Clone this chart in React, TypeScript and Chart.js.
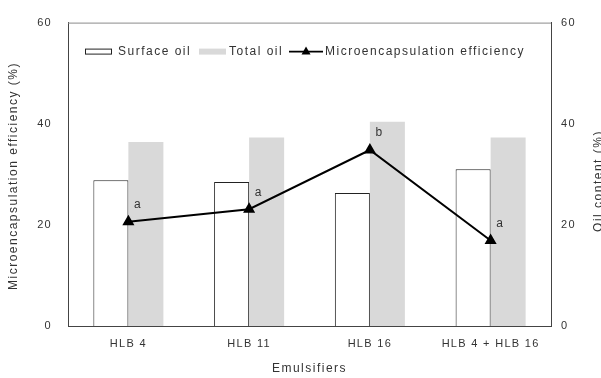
import React, { useEffect, useRef } from 'react';
import { Chart, registerables } from 'chart.js';

Chart.register(...registerables);

const categories = ['HLB 4', 'HLB 11', 'HLB 16', 'HLB 4 + HLB 16'];
const surfaceOil = [28.8, 28.5, 26.3, 31.0];
const totalOil = [36.4, 37.3, 40.4, 37.3];
const efficiency = [20.6, 23.1, 34.8, 16.9];
const significance = ['a', 'a', 'b', 'a'];
const seriesLabels = ['Surface oil', 'Total oil', 'Microencapsulation efficiency'];
const axisTitles = { left: 'Microencapsulation efficiency (%)', right: 'Oil content (%)', bottom: 'Emulsifiers' };
const axisMin = 0;
const axisMax = 60;
const axisStep = 20;

const FONT = '"Liberation Sans", Arial, sans-serif';
const TEXT = '#333333';
const GREY = '#d9d9d9';

const decor = {
  id: 'decor',
  beforeDraw(chart: any) {
    const ctx = chart.ctx;
    ctx.save();
    ctx.fillStyle = '#ffffff';
    ctx.fillRect(0, 0, chart.width, chart.height);
    ctx.restore();
    ctx.letterSpacing = '1.3px';
  },
  afterDraw(chart: any) {
    const ctx = chart.ctx;
    const ca = chart.chartArea;
    ctx.save();
    // top frame line
    ctx.strokeStyle = '#8a8a8a';
    ctx.lineWidth = 1;
    ctx.beginPath();
    ctx.moveTo(ca.left, ca.top + 0.5);
    ctx.lineTo(ca.right, ca.top + 0.5);
    ctx.stroke();

    // legend
    ctx.letterSpacing = '1.5px';
    ctx.font = `12px ${FONT}`;
    ctx.fillStyle = TEXT;
    ctx.textBaseline = 'middle';
    ctx.textAlign = 'left';
    const ly = ca.top + 29;
    // surface oil
    ctx.fillStyle = '#fff';
    ctx.fillRect(ca.left + 17, ly - 3, 27, 5);
    ctx.strokeStyle = '#222';
    ctx.lineWidth = 1;
    ctx.strokeRect(ca.left + 17.5, ly - 2.5, 26, 5);
    ctx.fillStyle = TEXT;
    ctx.fillText(seriesLabels[0], ca.left + 50, ly);
    // total oil
    ctx.fillStyle = GREY;
    ctx.fillRect(ca.left + 131, ly - 3, 27, 6);
    ctx.fillStyle = TEXT;
    ctx.fillText(seriesLabels[1], ca.left + 161, ly);
    // efficiency
    ctx.strokeStyle = '#000';
    ctx.lineWidth = 1.8;
    ctx.beginPath();
    ctx.moveTo(ca.left + 221, ly);
    ctx.lineTo(ca.left + 255, ly);
    ctx.stroke();
    ctx.fillStyle = '#000';
    ctx.beginPath();
    const tx = ca.left + 238;
    ctx.moveTo(tx, ly - 5);
    ctx.lineTo(tx + 4.5, ly + 3);
    ctx.lineTo(tx - 4.5, ly + 3);
    ctx.closePath();
    ctx.fill();
    ctx.fillStyle = TEXT;
    ctx.fillText(seriesLabels[2], ca.left + 257, ly);

    // significance letters
    const meta = chart.getDatasetMeta(2);
    ctx.letterSpacing = '0px';
    ctx.font = `12px ${FONT}`;
    ctx.textAlign = 'center';
    meta.data.forEach((pt: any, i: number) => {
      ctx.fillText(significance[i], pt.x + 9, pt.y - 17);
    });

    // axis titles
    ctx.letterSpacing = '1.5px';
    ctx.font = `12px ${FONT}`;
    ctx.fillStyle = TEXT;
    ctx.textAlign = 'center';
    ctx.save();
    ctx.translate(14, 176);
    ctx.rotate(-Math.PI / 2);
    ctx.fillText(axisTitles.left, 0, 0);
    ctx.restore();
    ctx.save();
    ctx.translate(599, 181);
    ctx.rotate(-Math.PI / 2);
    ctx.fillText(axisTitles.right, 0, 0);
    ctx.restore();
    ctx.fillText(axisTitles.bottom, (ca.left + ca.right) / 2, 369);
    ctx.restore();
  },
};

export default function App() {
  const ref = useRef<HTMLCanvasElement>(null);
  useEffect(() => {
    const canvas = ref.current!;
    const tickFont = { family: FONT, size: 11 };
    const chart = new Chart(canvas, {
      type: 'bar',
      data: {
        labels: categories,
        datasets: [
          {
            type: 'bar',
            label: seriesLabels[0],
            data: surfaceOil,
            backgroundColor: '#ffffff',
            borderColor: '#222222',
            borderWidth: 1,
            yAxisID: 'y2',
            order: 1,
            categoryPercentage: 0.58,
            barPercentage: 1,
          },
          {
            type: 'bar',
            label: seriesLabels[1],
            data: totalOil,
            backgroundColor: GREY,
            borderWidth: 0,
            yAxisID: 'y2',
            order: 1,
            categoryPercentage: 0.58,
            barPercentage: 1,
          },
          {
            type: 'line',
            label: seriesLabels[2],
            data: efficiency,
            borderColor: '#000000',
            backgroundColor: '#000000',
            borderWidth: 2,
            pointStyle: 'triangle',
            pointRadius: 5,
            pointBackgroundColor: '#000000',
            pointBorderColor: '#000000',
            fill: false,
            tension: 0,
            yAxisID: 'y',
            order: 0,
          },
        ] as any,
      },
      options: {
        responsive: false,
        animation: false,
        devicePixelRatio: 1,
        layout: { padding: { top: 14, left: 0, right: 0, bottom: 0 } },
        plugins: { legend: { display: false }, tooltip: { enabled: false }, title: { display: false } },
        scales: {
          x: {
            grid: { display: false, drawTicks: false },
            border: { display: true, color: '#444', width: 1 },
            ticks: { font: tickFont, color: TEXT, padding: 11, maxRotation: 0, autoSkip: false },
            afterFit: (s: any) => { s.height = 52; },
          },
          y: {
            position: 'left',
            min: axisMin,
            max: axisMax,
            grid: { display: false, drawTicks: false },
            border: { display: true, color: '#444', width: 1 },
            ticks: { stepSize: axisStep, font: tickFont, color: TEXT, padding: 16 },
            afterFit: (s: any) => { s.width = 68; },
          },
          y2: {
            position: 'right',
            min: axisMin,
            max: axisMax,
            grid: { display: false, drawTicks: false },
            border: { display: true, color: '#444', width: 1 },
            ticks: { stepSize: axisStep, font: tickFont, color: TEXT, padding: 10 },
            afterFit: (s: any) => { s.width = 50; },
          },
        },
      } as any,
      plugins: [decor],
    });
    return () => chart.destroy();
  }, []);
  return (
    <div style={{ position: 'fixed', left: 0, top: 0, width: 601, height: 378, background: '#fff' }}>
      <canvas ref={ref} width={601} height={378} style={{ width: 601, height: 378, display: 'block' }} />
    </div>
  );
}
